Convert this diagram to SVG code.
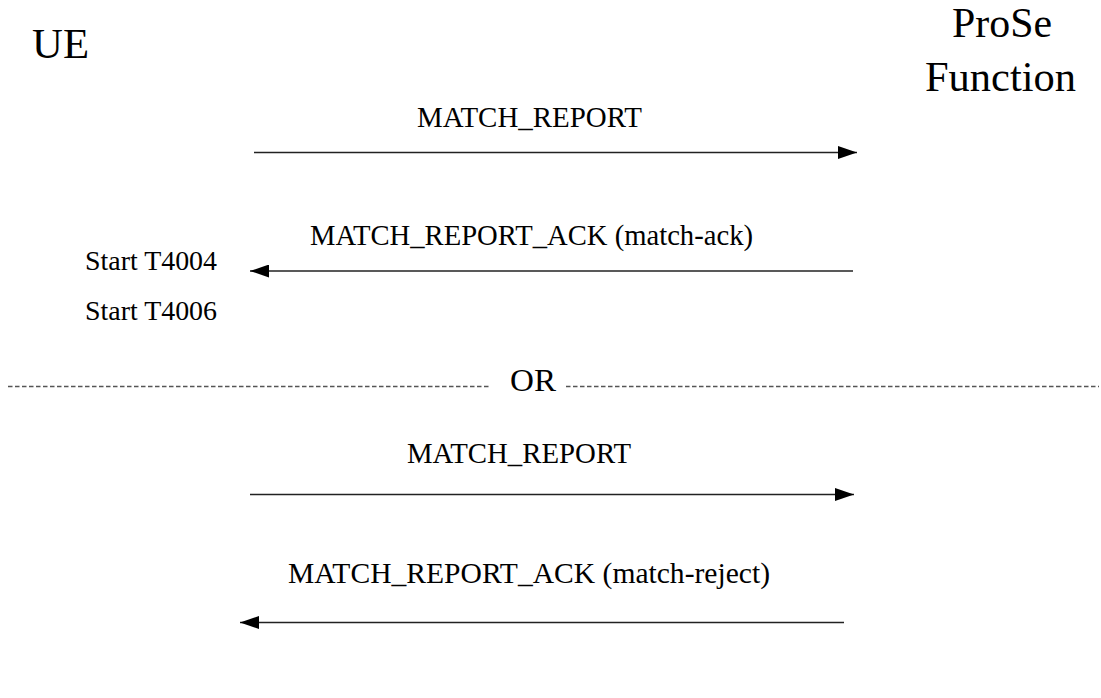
<svg xmlns="http://www.w3.org/2000/svg" width="1101" height="698" viewBox="0 0 1101 698">
<style>
text{font-family:"Liberation Serif","Times New Roman",serif;fill:#000}
.big{font-size:43px}
.msg{font-size:30px}
.note{font-size:27px}
.or{font-size:32px}
.ln{stroke:#222;stroke-width:1.6;fill:none}
.dash{stroke:#555;stroke-width:1.5;stroke-dasharray:4.5 2.5;fill:none}
</style>
<defs>
<marker id="ah" viewBox="0 0 19 13" refX="19" refY="6.5" markerWidth="19" markerHeight="13" markerUnits="userSpaceOnUse" orient="auto">
<path d="M0,0 L19,6.5 L0,13 Z" fill="#000"/>
</marker>
</defs>
<g id="ue"><text class="big" x="32" y="58" textLength="57" lengthAdjust="spacingAndGlyphs">UE</text></g>
<g id="prose">
<text class="big" x="952" y="37" textLength="100" lengthAdjust="spacingAndGlyphs">ProSe</text>
<text class="big" x="925" y="91" textLength="151" lengthAdjust="spacingAndGlyphs">Function</text>
</g>
<g id="notes">
<text class="note" x="85" y="270" textLength="132" lengthAdjust="spacingAndGlyphs">Start T4004</text>
<text class="note" x="85" y="320" textLength="132" lengthAdjust="spacingAndGlyphs">Start T4006</text>
</g>
<g id="separator">
<line class="dash" x1="8" y1="386.5" x2="490" y2="386.5"/>
<line class="dash" x1="566" y1="386.5" x2="1099" y2="386.5"/>
<text class="or" x="510" y="391" textLength="46" lengthAdjust="spacingAndGlyphs">OR</text>
</g>
<g id="connectors">
<line class="ln" x1="254" y1="152.5" x2="857" y2="152.5" marker-end="url(#ah)"/>
<line class="ln" x1="853" y1="271" x2="250" y2="271" marker-end="url(#ah)"/>
<line class="ln" x1="250" y1="494.5" x2="854" y2="494.5" marker-end="url(#ah)"/>
<line class="ln" x1="844" y1="622.5" x2="240" y2="622.5" marker-end="url(#ah)"/>
</g>
<g id="labels">
<text class="msg" x="417" y="127" textLength="225" lengthAdjust="spacingAndGlyphs">MATCH_REPORT</text>
<text class="msg" x="310" y="245" textLength="443" lengthAdjust="spacingAndGlyphs">MATCH_REPORT_ACK (match-ack)</text>
<text class="msg" x="407" y="463" textLength="224" lengthAdjust="spacingAndGlyphs">MATCH_REPORT</text>
<text class="msg" x="288" y="583" textLength="482" lengthAdjust="spacingAndGlyphs">MATCH_REPORT_ACK (match-reject)</text>
</g>
</svg>
